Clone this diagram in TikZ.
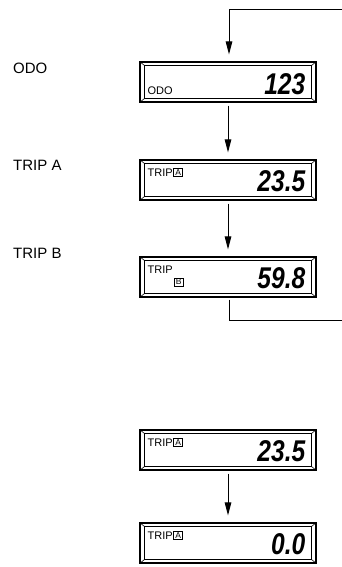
\documentclass[tikz,border=0pt]{standalone}
\usepackage{fontspec}
\setmainfont{Liberation Sans}
\newfontfamily\segfont[FakeStretch=0.82]{Liberation Sans}
\usetikzlibrary{calc,positioning,arrows.meta}

\tikzset{
  panel/.style={draw, line width=1.1pt, minimum width=176pt, minimum height=40pt, inner sep=0pt},
  flow/.style={line width=1pt, -{Triangle[length=13pt,width=6.5pt]}},
  sidelabel/.style={anchor=west, inner sep=0pt, font=\fontsize{15}{15}\selectfont},
  tag/.style={inner sep=0pt, font=\fontsize{11}{11}\selectfont},
  letterbox/.style={draw, line width=0.9pt, inner xsep=1.6pt, inner ysep=1pt, font=\fontsize{8.5}{8.5}\selectfont},
  reading/.style={inner sep=0pt, anchor=base east, font=\segfont\bfseries\itshape\fontsize{30}{30}\selectfont},
}

% inner frame and bevelled corners of a display
\newcommand\bevel[1]{%
  \draw[line width=0.6pt] ($(#1.north west)+(5,4)$) coordinate (#1-a)
     rectangle ($(#1.south east)+(-5,-4)$) coordinate (#1-c);
  \draw[line width=0.6pt] (#1.north west) -- (#1-a)
     (#1.north east) -- (#1-a -| #1-c)
     (#1.south east) -- (#1-c)
     (#1.south west) -- (#1-c -| #1-a);
  \draw[line width=1.6pt] (#1.south west) -- (#1.south east);
}

\begin{document}
\begin{tikzpicture}[x=1pt,y=-1pt]
  \useasboundingbox (0,0) rectangle (342,567);

  % displays
  \node[panel] (odo) at (228,82) {};
  \node[panel] (tripa) at (228,180) {};
  \node[panel] (tripb) at (228,277) {};
  \node[panel] (resa) at (228,450) {};
  \node[panel] (resz) at (228,543) {};
  \foreach \p in {odo,tripa,tripb,resa,resz}{\bevel{\p}}

  % names on the left
  \node[sidelabel] (l-odo) at (13,68) {ODO};
  \node[sidelabel] (l-tripa) at (13,165) {TRIP A};
  \node[sidelabel] (l-tripb) at (13,253) {TRIP B};

  % texts in the displays
  \node[tag, anchor=base west] (odo-t) at ($(odo.south west)+(8,-8)$) {ODO};
  \node[reading] (odo-r) at ($(odo.south east)+(-11,-8)$) {123};

  \node[tag, anchor=base west] (tripa-t) at ($(tripa.north west)+(8,17)$) {TRIP};
  \node[letterbox, right=0.5pt of tripa-t.east] (tripa-b) {A};
  \node[reading] (tripa-r) at ($(tripa.south east)+(-11,-9)$) {23.5};

  \node[tag, anchor=base west] (tripb-t) at ($(tripb.north west)+(8,17)$) {TRIP};
  \node[letterbox, anchor=north west] (tripb-b) at ($(tripb-t.south east)+(1,4)$) {B};
  \node[reading] (tripb-r) at ($(tripb.south east)+(-11,-9)$) {59.8};

  \node[tag, anchor=base west] (resa-t) at ($(resa.north west)+(8,17)$) {TRIP};
  \node[letterbox, right=0.5pt of resa-t.east] (resa-b) {A};
  \node[reading] (resa-r) at ($(resa.south east)+(-11,-9)$) {23.5};

  \node[tag, anchor=base west] (resz-t) at ($(resz.north west)+(8,17)$) {TRIP};
  \node[letterbox, right=0.5pt of resz-t.east] (resz-b) {A};
  \node[reading] (resz-r) at ($(resz.south east)+(-11,-9)$) {0.0};

  % loop back to the top
  \coordinate (loopin) at (342,10);
  \coordinate (loopout) at (342,320);
  \draw[flow] (loopin) -| ($(odo.north)+(1,-7)$);
  \draw[line width=1pt] ($(tripb.south)+(1,2)$) |- (loopout);

  % steps
  \draw[flow] ($(odo.south)+(0,3)$) -- ($(tripa.north)+(0,-7)$);
  \draw[flow] ($(tripa.south)+(0,3)$) -- ($(tripb.north)+(0,-7)$);
  \draw[flow] ($(resa.south)+(0,3)$) -- ($(resz.north)+(0,-7)$);
\end{tikzpicture}
\end{document}
